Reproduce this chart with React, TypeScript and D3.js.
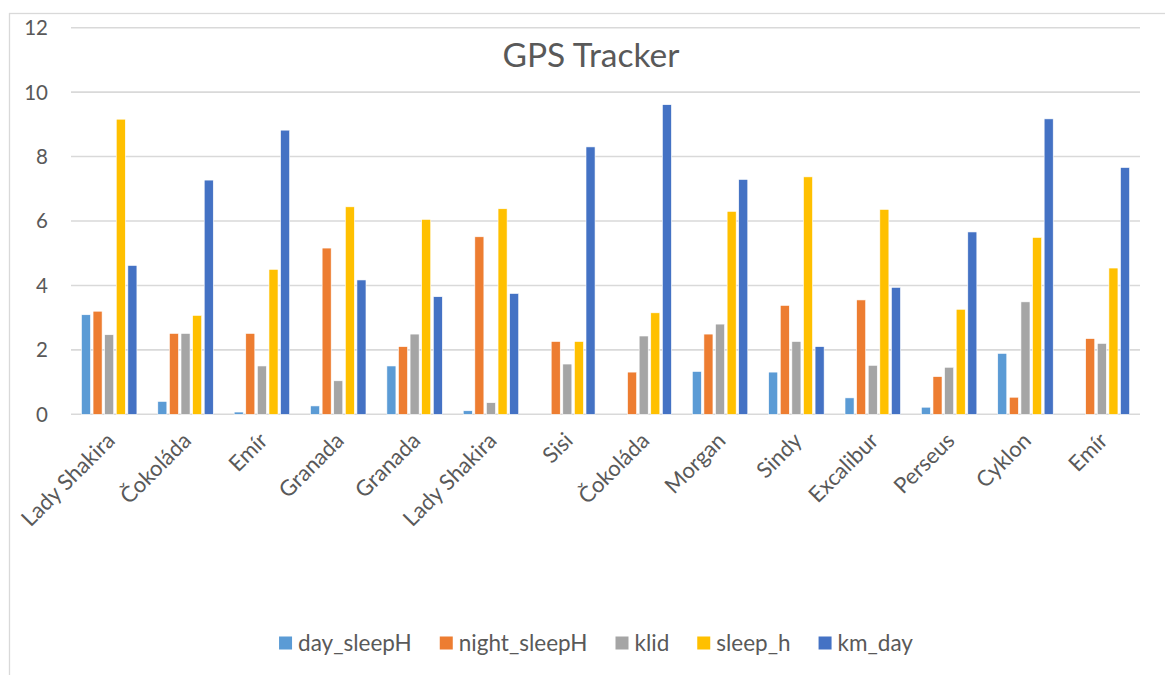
import { useEffect, useRef } from 'react';
import * as d3 from 'd3';

const categories = [
  "Lady Shakira", "Čokoláda", "Emír", "Granada", "Granada", "Lady Shakira", "Sisi",
  "Čokoláda", "Morgan", "Sindy", "Excalibur", "Perseus", "Cyklon", "Emír"
];

const seriesNames = ["day_sleepH", "night_sleepH", "klid", "sleep_h", "km_day"];
const seriesColors = ["#5B9BD5", "#ED7D31", "#A5A5A5", "#FFC000", "#4472C4"];

const daySleepH = [3.09, 0.4, 0.07, 0.26, 1.5, 0.11, 0, 0, 1.33, 1.31, 0.51, 0.22, 1.89, 0];
const nightSleepH = [3.2, 2.51, 2.51, 5.16, 2.1, 5.51, 2.26, 1.31, 2.49, 3.38, 3.55, 1.17, 0.53, 2.35];
const klid = [2.47, 2.51, 1.5, 1.04, 2.49, 0.36, 1.56, 2.43, 2.8, 2.26, 1.52, 1.46, 3.49, 2.2];
const sleepH = [9.16, 3.07, 4.5, 6.44, 6.05, 6.38, 2.26, 3.15, 6.3, 7.37, 6.36, 3.26, 5.49, 4.54];
const kmDay = [4.62, 7.27, 8.82, 4.17, 3.65, 3.75, 8.3, 9.61, 7.29, 2.1, 3.94, 5.66, 9.17, 7.66];

const yTicks = [0, 2, 4, 6, 8, 10, 12];

const FONT = "Lato, 'Open Sans', sans-serif";
const TEXT = "#595959";

export default function App() {
  const svgRef = useRef<SVGSVGElement>(null);

  useEffect(() => {
    if (!svgRef.current) return;
    const width = 1165;
    const height = 675;
    const svg = d3.select(svgRef.current);
    svg.selectAll("*").remove();

    const values = [daySleepH, nightSleepH, klid, sleepH, kmDay];
    const rows = categories.map((c, i) => ({
      i,
      name: c,
      vals: seriesNames.map((s, j) => ({ key: s, j, v: values[j][i] }))
    }));

    // chart frame
    svg.append("rect")
      .attr("x", 9.5).attr("y", 13.5)
      .attr("width", width + 20).attr("height", height + 20)
      .attr("fill", "white")
      .attr("stroke", "#D9D9D9")
      .attr("stroke-width", 1.3);

    const x0 = d3.scaleBand<number>()
      .domain(rows.map(r => r.i))
      .range([71, 1140])
      .padding(0);

    const x1 = d3.scaleBand<string>()
      .domain(seriesNames)
      .range([0, x0.bandwidth()])
      .paddingInner(0.22)
      .paddingOuter(0.9);

    const y = d3.scaleLinear().domain([0, 12]).range([414.3, 27.7]);

    // gridlines
    svg.append("g")
      .selectAll("line")
      .data(yTicks)
      .enter()
      .append("line")
      .attr("x1", 71).attr("x2", 1140)
      .attr("y1", d => y(d)).attr("y2", d => y(d))
      .attr("stroke", "#D9D9D9")
      .attr("stroke-width", 1.6);

    // y labels
    svg.append("g")
      .selectAll("text")
      .data(yTicks)
      .enter()
      .append("text")
      .attr("x", 48)
      .attr("y", d => y(d))
      .attr("dy", "0.36em")
      .attr("text-anchor", "end")
      .attr("font-family", FONT)
      .attr("font-size", 20.5)
      .attr("fill", TEXT)
      .text(d => d);

    // bars
    const groups = svg.append("g")
      .selectAll("g")
      .data(rows)
      .enter()
      .append("g")
      .attr("transform", d => `translate(${x0(d.i)},0)`);

    groups.selectAll("rect")
      .data(d => d.vals)
      .enter()
      .append("rect")
      .attr("x", d => x1(d.key)!)
      .attr("y", d => y(d.v))
      .attr("width", x1.bandwidth())
      .attr("height", d => y(0) - y(d.v))
      .attr("fill", d => seriesColors[d.j])
      .attr("stroke", "white")
      .attr("stroke-width", 0.6);

    // category labels
    svg.append("g")
      .selectAll("text")
      .data(rows)
      .enter()
      .append("text")
      .attr("transform", d => `translate(${x0(d.i)! + x0.bandwidth() / 2 + 7},${442}) rotate(-45)`)
      .attr("text-anchor", "end")
      .attr("font-family", FONT)
      .attr("font-size", 22)
      .attr("fill", TEXT)
      .text(d => d.name);

    // title
    svg.append("text")
      .attr("x", 591)
      .attr("y", 67)
      .attr("text-anchor", "middle")
      .attr("font-family", FONT)
      .attr("font-size", 33.5)
      .attr("fill", TEXT)
      .text("GPS Tracker");

    // legend
    const legend = svg.append("g");
    let cx = 0;
    seriesNames.forEach((s, j) => {
      const item = legend.append("g").attr("transform", `translate(${cx},0)`);
      item.append("rect")
        .attr("x", 0).attr("y", -6.5)
        .attr("width", 13).attr("height", 13)
        .attr("fill", seriesColors[j]);
      const t = item.append("text")
        .attr("x", 19)
        .attr("y", 0)
        .attr("dy", "0.35em")
        .attr("font-family", FONT)
        .attr("font-size", 22.5)
        .attr("fill", TEXT)
        .text(s);
      const w = (t.node() as SVGTextElement).getComputedTextLength();
      cx += 19 + w + 28;
    });
    const totalW = cx - 28;
    legend.attr("transform", `translate(${596 - totalW / 2},643)`);
  }, []);

  return (
    <div style={{ position: "fixed", left: 0, top: 0, width: 1165, height: 675, background: "white" }}>
      <svg ref={svgRef} width={1165} height={675} viewBox="0 0 1165 675" style={{ display: "block" }}></svg>
    </div>
  );
}
